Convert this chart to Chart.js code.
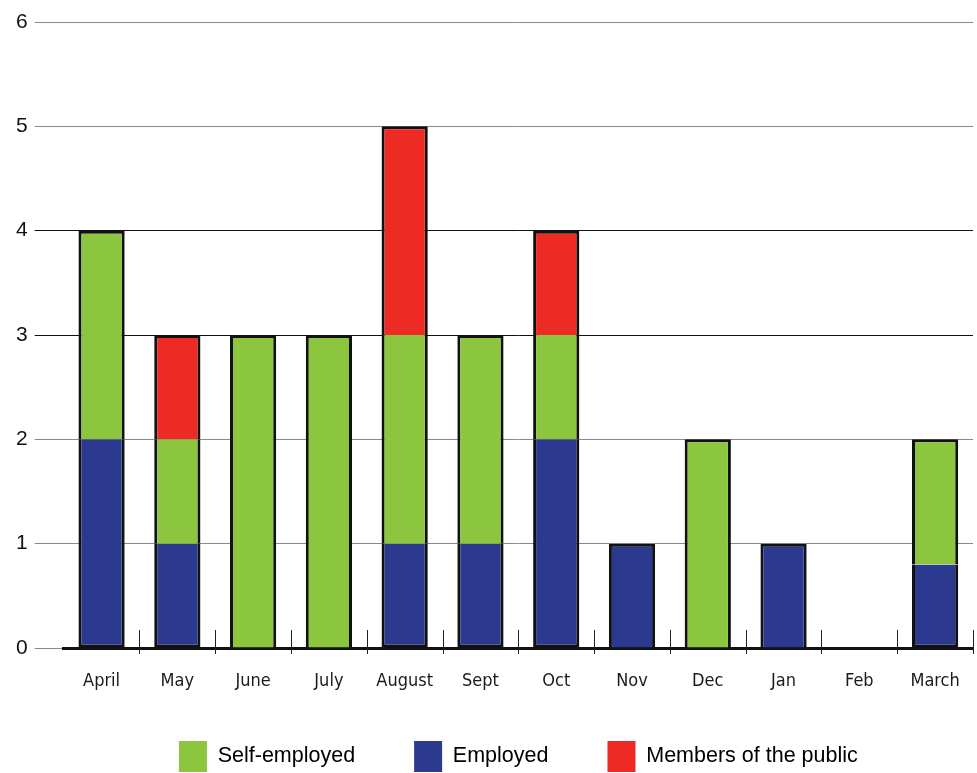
<!DOCTYPE html>
<html lang="en">
<head>
  <meta charset="UTF-8" />
  <title>Monthly cases by category</title>
  <script src="https://cdn.jsdelivr.net/npm/chart.js"></script>
  <style>
    html, body {
      margin: 0;
      padding: 0;
      background: #fff;
    }
    .wrap {
      width: 977px;
      height: 773px;
      position: relative;
    }
  </style>
</head>
<body>
  <div class="wrap">
    <canvas id="chart" width="977" height="773"></canvas>
  </div>

  <script>
    // Data
    const months = ['April', 'May', 'June', 'July', 'August', 'Sept', 'Oct', 'Nov', 'Dec', 'Jan', 'Feb', 'March'];
    const employed = [2, 1, null, null, 1, 1, 2, 1, null, 1, null, 0.8];
    const selfEmployed = [2, 1, 3, 3, 2, 2, 1, null, 2, null, null, 1.2];
    const membersOfPublic = [null, 1, null, null, 2, null, 1, null, null, null, null, null];
    const yTicks = [0, 1, 2, 3, 4, 5, 6];

    // legend shows self-employed first, stack builds employed first
    const legendOrder = ['Self-employed', 'Employed', 'Members of the public'];

    // small tick marks between months, crossing the axis line
    const boundaryTicks = {
      id: 'boundaryTicks',
      afterLayout(chart) {
        // x axis box is squeezed so the legend sits close; let its labels draw past it
        chart.scales.x.bottom = chart.scales.x.top + 60;
      },
      afterDraw(chart) {
        const x = chart.scales.x;
        const y0 = chart.scales.y.getPixelForValue(0);
        const ctx = chart.ctx;
        ctx.save();
        ctx.strokeStyle = '#222';
        ctx.lineWidth = 1;
        for (let i = 1; i <= months.length; i++) {
          const px = Math.round(x.getPixelForValue(i - 0.5)) + 0.5;
          ctx.beginPath();
          ctx.moveTo(px, y0 - 18);
          ctx.lineTo(px, y0 + 6);
          ctx.stroke();
        }
        ctx.restore();
      }
    };

    new Chart(document.getElementById('chart'), {
      type: 'bar',
      data: {
        labels: months,
        datasets: [
          {
            label: 'Employed',
            data: employed,
            backgroundColor: '#2b3a8f'
          },
          {
            label: 'Self-employed',
            data: selfEmployed,
            backgroundColor: '#8cc63f'
          },
          {
            label: 'Members of the public',
            data: membersOfPublic,
            backgroundColor: '#ee2a24'
          }
        ]
      },
      options: {
        responsive: false,
        animation: false,
        layout: { padding: { left: 9, right: 4, top: 22, bottom: 0 } },
        datasets: {
          bar: {
            borderColor: '#111',
            borderWidth: 3,
            borderSkipped: 'middle',
            barPercentage: 0.61,
            categoryPercentage: 1
          }
        },
        plugins: {
          tooltip: { enabled: false },
          legend: {
            position: 'bottom',
            fullSize: false,
            maxHeight: 91,
            labels: {
              boxWidth: 28,
              boxHeight: 31,
              padding: 59,
              color: '#111',
              font: { family: 'Liberation Sans, Arial, sans-serif', size: 21.5 },
              sort: (a, b) => legendOrder.indexOf(a.text) - legendOrder.indexOf(b.text),
              generateLabels(chart) {
                return chart.data.datasets.map((ds, i) => ({
                  text: ds.label,
                  fillStyle: ds.backgroundColor,
                  strokeStyle: ds.backgroundColor,
                  lineWidth: 0,
                  datasetIndex: i
                }));
              }
            }
          }
        },
        scales: {
          x: {
            stacked: true,
            offset: true,
            grid: { display: false },
            border: { display: true, color: '#111', width: 3 },
            ticks: {
              color: '#1a1a1a',
              padding: 15,
              font: { family: 'Liberation Sans Narrow, DejaVu Sans Condensed, Arial, sans-serif', size: 18 }
            },
            afterFit(scale) {
              scale.height = 34;
            }
          },
          y: {
            stacked: true,
            min: 0,
            max: 6,
            afterBuildTicks(scale) {
              scale.ticks = yTicks.map(v => ({ value: v }));
            },
            border: { display: false },
            grid: {
              color: ctx => (ctx.tick && (ctx.tick.value === 3 || ctx.tick.value === 4)) ? '#111' : '#8a8a8a',
              lineWidth: 1,
              tickLength: 29,
              drawTicks: true
            },
            ticks: {
              color: '#111',
              padding: 7,
              font: { family: 'Liberation Sans, Arial, sans-serif', size: 21 }
            }
          }
        }
      },
      plugins: [boundaryTicks]
    });
  </script>
</body>
</html>
